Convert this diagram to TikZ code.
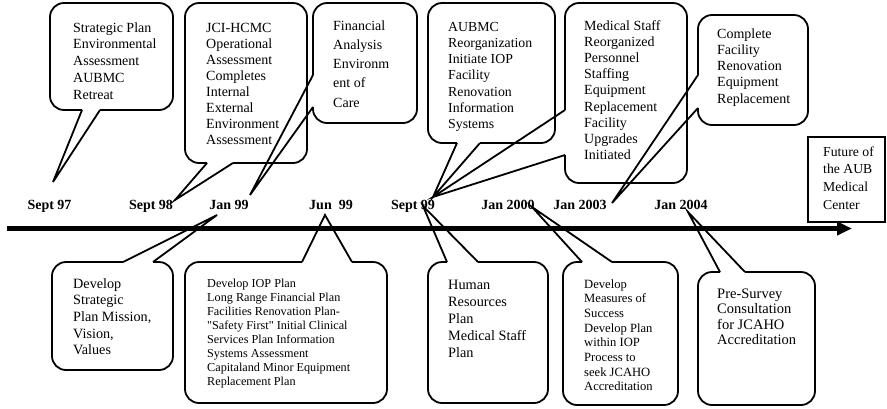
\documentclass[tikz,border=0pt]{standalone}
\usepackage{fontspec}
\setmainfont{Liberation Serif}
\usetikzlibrary{arrows.meta}
\newcommand{\fs}[2]{\fontsize{#1}{#2}\selectfont}
\begin{document}
\begin{tikzpicture}[x=1pt,y=-1pt,
  outline/.style={line width=1.8pt, rounded corners=14pt, line join=round},
  tailline/.style={line width=1.8pt, line join=miter},
  % text blocks are placed by the baseline of their last line
  txt/.style={anchor=base west, inner sep=0pt, align=left},
  datelbl/.style={anchor=base, inner sep=0pt, font=\fs{14}{16}\bfseries}]
\useasboundingbox (0,0) rectangle (887,408);

% ---- time axis ----
\coordinate (tl0) at (7,228.5);
\coordinate (tl1) at (852,228.5);
\draw[line width=5.5pt, -{Triangle[length=15pt,width=13pt]}] (tl0) -- (tl1);

% ---- dates ----
\node[datelbl] (d97)   at (49.5,209) {Sept 97};
\node[datelbl] (d98)   at (151,209)  {Sept 98};
\node[datelbl] (dj99)  at (229,209)  {Jan 99};
\node[datelbl] (dju99) at (331,209)  {Jun\ \ 99};
\node[datelbl] (ds99)  at (413,209)  {Sept 99};
\node[datelbl] (d2000) at (508,209)  {Jan 2000};
\node[datelbl] (d2003) at (580,209)  {Jan 2003};
\node[datelbl] (d2004) at (681,209)  {Jan 2004};

% ---- tail tips ----
\coordinate (a1) at (53,182);
\coordinate (a2) at (175,200);
\coordinate (a3) at (250,195);
\coordinate (a4) at (433,197);
\coordinate (a6) at (612,203);
\coordinate (b1) at (217,215);
\coordinate (b2) at (325,215);
\coordinate (b3) at (423,206);
\coordinate (b4) at (532,207);
\coordinate (b5) at (688,212);

% ---- upper callouts ----
\draw[outline] (100,110) -- (173,110) -- (173,3) -- (50,3) -- (50,110) -- (82,110);
\draw[tailline] (82,110) -- (a1) -- (100,110);
\node[txt, font=\fs{14}{16.8}] (t1) at (73,99.2)
  {Strategic Plan\\Environmental\\Assessment\\AUBMC\\Retreat};

\draw[outline] (233,163) -- (307,163) -- (307,3) -- (185,3) -- (185,163) -- (207,163);
\draw[tailline] (207,163) -- (a2) -- (233,163);
\node[txt, font=\fs{14}{16}] (t2) at (206,144)
  {JCI-HCMC\\Operational\\Assessment\\Completes\\Internal\\External\\Environment\\Assessment};

\draw[outline] (313,107) -- (313,123) -- (417,123) -- (417,3) -- (313,3) -- (313,75);
\draw[tailline] (313,75) -- (a3) -- (313,107);
\node[txt, font=\fs{14}{19.3}] (t3) at (333,107.2)
  {Financial\\Analysis\\Environm\\ent of\\Care};

\draw[outline] (480,143) -- (555,143) -- (555,3) -- (428,3) -- (428,143) -- (457,143);
\draw[tailline] (457,143) -- (a4) -- (480,143);
\node[txt, font=\fs{13.8}{16.3}] (t4) at (448,128.8)
  {AUBMC\\Reorganization\\Initiate IOP\\Facility\\Renovation\\Information\\Systems};

\draw[outline] (565,155) -- (565,183) -- (687,183) -- (687,3) -- (565,3) -- (565,110);
\draw[tailline] (565,110) -- (a4) -- (565,155);
\node[txt, font=\fs{14}{16.2}] (t5) at (584,159.6)
  {Medical Staff\\Reorganized\\Personnel\\Staffing\\Equipment\\Replacement\\Facility\\Upgrades\\Initiated};

\draw[outline] (698,108) -- (698,125) -- (808,125) -- (808,15) -- (698,15) -- (698,75);
\draw[tailline] (698,75) -- (a6) -- (698,108);
\node[txt, font=\fs{14}{16.3}] (t6) at (717,103.2)
  {Complete\\Facility\\Renovation\\Equipment\\Replacement};

% ---- end point of the axis ----
\draw[line width=1.8pt] (808,137) rectangle (885,222);
\node[txt, font=\fs{13.7}{17.7}] (tf) at (823,209.1)
  {Future of\\the AUB\\Medical\\Center};

% ---- lower callouts ----
\draw[outline] (153,262) -- (173,262) -- (173,370) -- (52,370) -- (52,262) -- (123,262);
\draw[tailline] (123,262) -- (b1) -- (153,262);
\node[txt, font=\fs{14.2}{16.7}] (u1) at (73,354.8)
  {Develop\\Strategic\\Plan Mission,\\Vision,\\Values};

\draw[outline] (352,262) -- (387,262) -- (387,403) -- (185,403) -- (185,262) -- (302,262);
\draw[tailline] (302,262) -- (b2) -- (352,262);
\node[txt, font=\fs{12.2}{14}] (u2) at (207,385)
  {Develop IOP Plan\\Long Range Financial Plan\\Facilities Renovation Plan-\\\textquotedbl Safety First\textquotedbl{} Initial Clinical\\Services Plan Information\\Systems Assessment\\Capitaland Minor Equipment\\Replacement Plan};

\draw[outline] (478,262) -- (548,262) -- (548,403) -- (428,403) -- (428,262) -- (447,262);
\draw[tailline] (447,262) -- (b3) -- (478,262);
\node[txt, font=\fs{14.3}{17}] (u3) at (448,357)
  {Human\\Resources\\Plan\\Medical Staff\\Plan};

\draw[outline] (612,262) -- (678,262) -- (678,405) -- (563,405) -- (563,262) -- (582,262);
\draw[tailline] (582,262) -- (b4) -- (612,262);
\node[txt, font=\fs{12.6}{14.7}] (u4) at (584,390.9)
  {Develop\\Measures of\\Success\\Develop Plan\\within IOP\\Process to\\seek JCAHO\\Accreditation};

\draw[outline] (745,272) -- (815,272) -- (815,405) -- (698,405) -- (698,272) -- (720,272);
\draw[tailline] (720,272) -- (b5) -- (745,272);
\node[txt, font=\fs{14.5}{15.6}] (u5) at (717,344.8)
  {Pre-Survey\\Consultation\\for JCAHO\\Accreditation};
\end{tikzpicture}
\end{document}
